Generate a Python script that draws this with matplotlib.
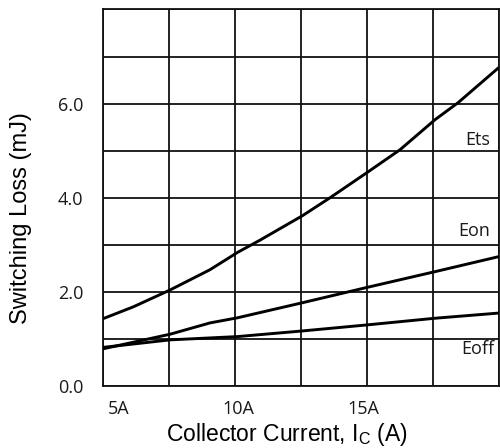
import matplotlib
matplotlib.use("Agg")
import matplotlib.pyplot as plt
import matplotlib.transforms as mtransforms

# Data
ets_x = [5.0, 6.14, 7.54, 9.05, 10.1, 10.95, 12.56, 13.6, 15.04, 16.25, 17.58, 18.45, 20.0]
ets_y = [1.43, 1.68, 2.04, 2.47, 2.84, 3.1, 3.62, 4.0, 4.55, 5.02, 5.66, 6.02, 6.77]
eon_x = [5.0, 7.54, 9.05, 10.1, 12.56, 15.04, 17.58, 20.0]
eon_y = [0.79, 1.1, 1.34, 1.45, 1.77, 2.1, 2.43, 2.75]
eoff_x = [5.0, 7.54, 10.1, 12.56, 15.04, 17.58, 20.0]
eoff_y = [0.82, 0.98, 1.05, 1.17, 1.30, 1.44, 1.55]

x_ticks = [5, 7.5, 10, 12.5, 15, 17.5, 20]
x_tick_labels = ["5A", "", "10A", "", "15A", "", ""]
y_ticks = [0, 1, 2, 3, 4, 5, 6, 7, 8]
y_tick_labels = ["0.0", "", "2.0", "", "4.0", "", "6.0", "", ""]
curve_labels = ["Ets", "Eon", "Eoff"]
curve_label_x = [19.2, 19.05, 19.2]
curve_label_y = [5.23, 3.3, 0.79]

plt.rcParams['mathtext.fontset'] = 'custom'
plt.rcParams['mathtext.rm'] = 'Liberation Sans'

fig = plt.figure(figsize=(5.0, 4.48), dpi=100)
ax = fig.add_axes([0.206, 0.1384, 0.792, 0.8404])

for xs, ys in [(ets_x, ets_y), (eon_x, eon_y), (eoff_x, eoff_y)]:
    ax.plot(xs, ys, color="black", lw=2.1, solid_capstyle="butt",
            solid_joinstyle="round", zorder=3)

ax.set_xlim(5, 20)
ax.set_ylim(0, 8)
ax.set_xticks(x_ticks)
ax.set_xticklabels(x_tick_labels, fontfamily="Open Sans", fontsize=13, color="#1a1a1a")
ax.set_yticks(y_ticks)
ax.set_yticklabels(y_tick_labels, fontfamily="Open Sans", fontsize=13, color="#1a1a1a")
ax.tick_params(length=0)
ax.tick_params(axis="x", pad=10)
ax.tick_params(axis="y", pad=14)
ax.grid(True, color="#111111", lw=1.3)
for s in ax.spines.values():
    s.set_color("#111111")
    s.set_linewidth(1.3)

# nudge x tick labels as in the reference
for lbl, dx in zip(ax.get_xticklabels(), [16, 0, 3, 0, -4, 0, 0]):
    lbl.set_transform(lbl.get_transform() + mtransforms.ScaledTranslation(dx/100, 0, fig.dpi_scale_trans))

for name, xv, yv in zip(curve_labels, curve_label_x, curve_label_y):
    ax.text(xv, yv, name, ha="center", va="center", fontfamily="Open Sans",
            fontsize=13, color="#1a1a1a")

fig.text(21/500, 1 - 218/448, "Switching Loss (mJ)", rotation=90, ha="center", va="center",
         fontfamily="Liberation Sans", fontsize=17)
fig.text(286.5/500, 1 - 441/448, r"Collector Current, I$_\mathrm{C}$ (A)", ha="center", va="baseline",
         fontfamily="Liberation Sans", fontsize=16.5)

fig.savefig("out.png", dpi=100)
